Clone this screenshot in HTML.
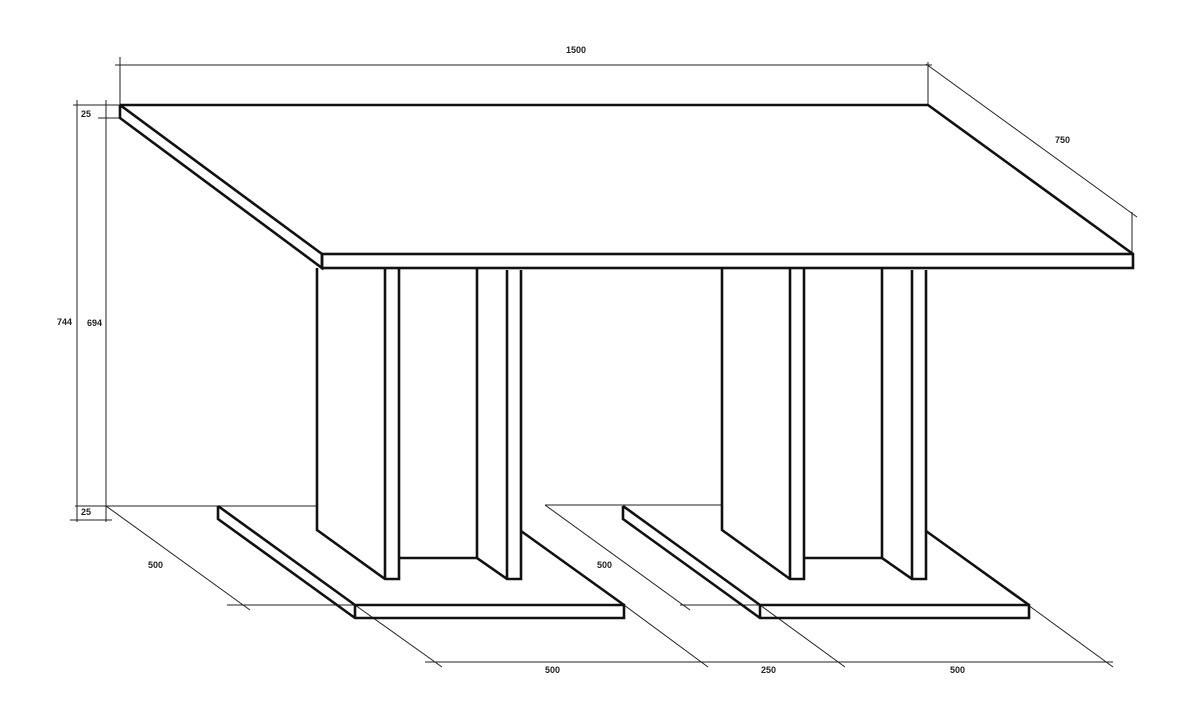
<!DOCTYPE html>
<html><head><meta charset="utf-8"><style>
html,body{margin:0;padding:0;background:#fff;}
svg{display:block;}
text{font-family:"Liberation Sans",sans-serif;font-size:9px;fill:#222;font-weight:bold;}
</style></head><body>
<svg width="1196" height="707" viewBox="0 0 1196 707" xmlns="http://www.w3.org/2000/svg">
<g stroke="#222" stroke-width="1" fill="none">
<!-- top dims -->
<line x1="120" y1="57" x2="120" y2="105"/>
<line x1="115" y1="65" x2="932" y2="65"/>
<line x1="928" y1="62" x2="928" y2="105"/>
<line x1="926" y1="64" x2="1137" y2="217"/>
<line x1="1132" y1="212" x2="1132" y2="254"/>
<!-- left dims -->
<line x1="77" y1="100" x2="77" y2="522"/>
<line x1="106" y1="100" x2="106" y2="522"/>
<line x1="73" y1="105" x2="120" y2="105"/>
<line x1="98" y1="118" x2="120" y2="118"/>
<line x1="75" y1="506" x2="317" y2="506"/>
<line x1="70" y1="520" x2="112" y2="520"/>
<!-- base dims -->
<line x1="106" y1="506" x2="250" y2="610"/>
<line x1="227" y1="605" x2="355" y2="605"/>
<line x1="355" y1="605" x2="442" y2="667"/>
<line x1="425" y1="662" x2="1113" y2="662"/>
<line x1="545" y1="505" x2="722" y2="505"/>
<line x1="545" y1="505" x2="690" y2="610"/>
<line x1="680" y1="605" x2="760" y2="605"/>
<line x1="624" y1="605" x2="708" y2="667"/>
<line x1="760" y1="605" x2="845" y2="667"/>
<line x1="1028" y1="605" x2="1113" y2="667"/>
</g>
<g stroke="#111" stroke-width="2.6" fill="none" stroke-linejoin="miter">
<!-- table top -->
<line x1="120" y1="105" x2="928" y2="105"/>
<line x1="928" y1="105" x2="1133" y2="254"/>
<polyline points="120,105 120,118 322,268 322,254 120,105"/>
<rect x="322" y="254" width="811" height="14"/>
<!-- pedestal 1 -->
<g id="p">
<polyline points="317,268 317,530 385,579 399,579 399,268"/>
<line x1="385" y1="268" x2="385" y2="579"/>
<polyline points="399,558 477,558 507,579 521,579 521,270"/>
<line x1="477" y1="268" x2="477" y2="558"/>
<line x1="507" y1="270" x2="507" y2="579"/>
<line x1="521" y1="531" x2="624" y2="605"/>
<polyline points="218,506 355,605 624,605 624,618 355,618 218,519 218,506"/>
<line x1="355" y1="605" x2="355" y2="618"/>
</g>
<use href="#p" transform="translate(405,0)"/>
</g>
<text x="566" y="53">1500</text>
<text x="1055" y="143">750</text>
<text x="81" y="117">25</text>
<text x="57" y="325">744</text>
<text x="87" y="326">694</text>
<text x="81" y="515">25</text>
<text x="148" y="568">500</text>
<text x="597" y="568">500</text>
<text x="545" y="673">500</text>
<text x="761" y="673">250</text>
<text x="950" y="673">500</text>
</svg>
</body></html>
